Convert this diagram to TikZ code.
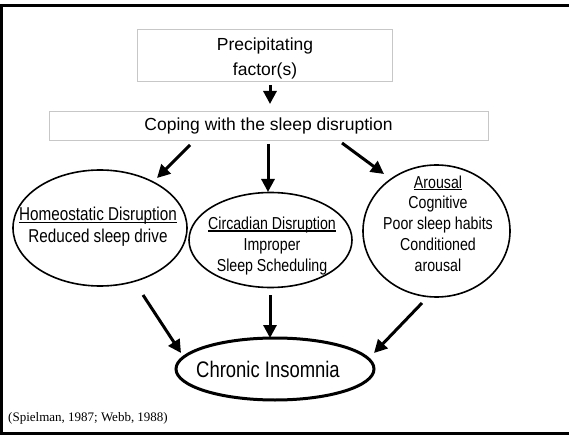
\documentclass[tikz,border=0pt]{standalone}
\usepackage{fontspec}
\setmainfont{Liberation Sans}
\newfontfamily\narrowfont[FakeStretch=0.82]{Liberation Sans}
\newfontfamily\citefont{Liberation Serif}
\usetikzlibrary{arrows.meta,shapes.geometric}

% underline with a heavier rule set close to the baseline
\newcommand\heavyul[1]{\setbox0\hbox{#1}\rlap{\rule[-2.2pt]{\wd0}{1.5pt}}\box0}

\tikzset{
  greybox/.style={draw=black!22, line width=0.8pt, rectangle, inner sep=0pt},
  oval/.style={draw, ellipse, line width=1.6pt, inner sep=0pt},
  bigoval/.style={draw, ellipse, line width=3pt, inner sep=0pt},
  ovaltext/.style={font=\narrowfont\fontsize{17.3}{20.8}\selectfont, align=center, inner sep=0pt},
  flow/.style={line width=3pt, -{Triangle[length=13pt,width=13pt]}},
}

\begin{document}
\begin{tikzpicture}[x=1pt,y=-1pt]
\useasboundingbox (0,0) rectangle (569,435);
% outer frame (runs past the right edge of the page)
\draw[line width=3pt] (1.5,6) rectangle (590,433.5);

% boxes
\node[greybox, minimum width=255pt, minimum height=52pt] (prec) at (264.5,55) {};
\node[align=center, inner sep=0pt, font=\fontsize{17.5}{25}\selectfont] (prectxt) at (265,58)
      {Precipitating\\factor(s)};
\node[greybox, minimum width=439pt, minimum height=29pt,
      font=\fontsize{17.5}{21}\selectfont] (cope) at (268.5,125.5)
      {Coping with the sleep disruption};

% ellipses
\node[oval, minimum width=174pt, minimum height=116pt] (homeo) at (100,228) {};
\node[oval, minimum width=163pt, minimum height=95pt] (circ) at (270.5,240) {};
\node[oval, minimum width=147pt, minimum height=132pt] (arous) at (436.5,231) {};
\node[bigoval, minimum width=198pt, minimum height=62pt] (chronic) at (275,369) {};

% ellipse labels
\node[ovaltext, font=\narrowfont\fontsize{18.6}{22}\selectfont] (homeotxt) at (98,227)
  {\heavyul{Homeostatic Disruption}\\Reduced sleep drive};
\node[ovaltext, text depth=0pt] (circtxt) at (272,244)
  {\heavyul{Circadian Disruption}\\Improper\\Sleep Scheduling};
\node[ovaltext] (aroustxt) at (438,223.5)
  {\heavyul{Arousal}\\Cognitive\\Poor sleep habits\\Conditioned\\arousal};
\node[inner sep=0pt, font=\narrowfont\fontsize{22.5}{26}\selectfont] (chronictxt) at (268,369)
  {Chronic Insomnia};

% citation
\node[anchor=west, inner sep=0pt, font=\citefont\fontsize{13}{15}\selectfont] (cite) at (8,418)
  {(Spielman, 1987; Webb, 1988)};

% arrow end points
\coordinate (p1) at (270,85);   \coordinate (p2) at (270,104);
\coordinate (c1) at (190,145);  \coordinate (h1) at (157,178);
\coordinate (c2) at (268,144);  \coordinate (m1) at (268,192);
\coordinate (c3) at (342,143);  \coordinate (a1) at (384,174);
\coordinate (h2) at (143,295);  \coordinate (k1) at (181,353);
\coordinate (m2) at (270,295);  \coordinate (k2) at (270,338);
\coordinate (a2) at (422,303);  \coordinate (k3) at (374,353);

\draw[flow] (p1) -- (p2);
\draw[flow] (c1) -- (h1);
\draw[flow] (c2) -- (m1);
\draw[flow] (c3) -- (a1);
\draw[flow] (h2) -- (k1);
\draw[flow] (m2) -- (k2);
\draw[flow] (a2) -- (k3);
\end{tikzpicture}
\end{document}
